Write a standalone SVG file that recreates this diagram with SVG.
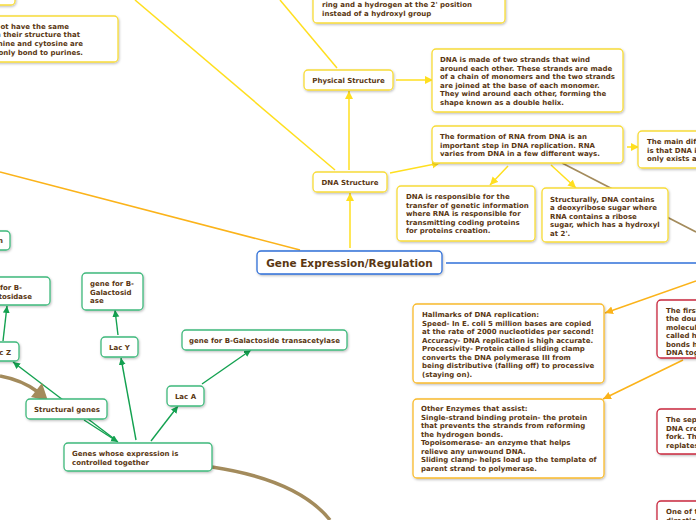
<svg xmlns="http://www.w3.org/2000/svg" width="696" height="520" viewBox="0 0 696 520">
<style>
text{font-family:"DejaVu Sans","Liberation Sans",sans-serif;font-weight:bold;font-size:7px;fill:#5a3712}
.c{text-anchor:middle}
.e{text-anchor:end}
.n rect{fill:#fff;stroke-width:1.3;filter:url(#sh)}
.y rect{stroke:#f8dc38}
.o rect{stroke:#f9bb2c}
.g rect{stroke:#3fb97c}
.r rect{stroke:#c9283e}
.b rect{stroke:#2f6fd8}
.ly{stroke:#ffdf1f;stroke-width:1.5;fill:none}
.lo{stroke:#fbb31a;stroke-width:1.6;fill:none}
.lg{stroke:#13a150;stroke-width:1.4;fill:none}
.lbr{stroke:#a38b5c;fill:none}
</style>
<defs>
<filter id="sh" x="-10%" y="-20%" width="130%" height="160%">
<feDropShadow dx="0.8" dy="1.2" stdDeviation="0.8" flood-color="#000" flood-opacity="0.25"/>
</filter>
<marker id="ay" markerUnits="userSpaceOnUse" markerWidth="10" markerHeight="10" refX="8" refY="4" orient="auto"><path d="M0,0L8,4L0,8z" fill="#ffdf1f"/></marker>
<marker id="ao" markerUnits="userSpaceOnUse" markerWidth="10" markerHeight="10" refX="8" refY="4" orient="auto"><path d="M0,0L8,4L0,8z" fill="#fbb31a"/></marker>
<marker id="ag" markerUnits="userSpaceOnUse" markerWidth="10" markerHeight="10" refX="7" refY="3.5" orient="auto"><path d="M0,0L7,3.5L0,7z" fill="#13a150"/></marker>
</defs>

<g id="connectors">
<line class="ly" x1="135" y1="0" x2="335" y2="170"/>
<line class="ly" x1="280" y1="0" x2="337" y2="68"/>
<line class="ly" x1="349" y1="170" x2="349" y2="91" marker-end="url(#ay)"/>
<line class="ly" x1="396" y1="80" x2="433" y2="80" marker-end="url(#ay)"/>
<line class="ly" x1="390" y1="173" x2="440" y2="163" marker-end="url(#ay)"/>
<line class="ly" x1="350" y1="248" x2="350" y2="193" marker-end="url(#ay)"/>
<line class="ly" x1="627" y1="147" x2="639" y2="147" marker-end="url(#ay)"/>
<line class="ly" x1="508" y1="166" x2="490" y2="185" marker-end="url(#ay)"/>
<line class="ly" x1="551" y1="165" x2="576" y2="188" marker-end="url(#ay)"/>
<line class="lbr" stroke-width="1.6" x1="562" y1="163" x2="696" y2="232"/>
<line class="lo" x1="0" y1="172" x2="300" y2="250"/>
<line x1="446" y1="263" x2="696" y2="263" stroke="#2f6fd8" stroke-width="1.6"/>
<line class="lo" x1="696" y1="281" x2="605" y2="313" marker-end="url(#ao)"/>
<line class="lo" x1="683" y1="360" x2="603" y2="399" marker-end="url(#ao)"/>
<line class="lg" x1="151" y1="441" x2="178" y2="406" marker-end="url(#ag)"/>
<line class="lg" x1="136" y1="440" x2="121" y2="358" marker-end="url(#ag)"/>
<line class="lg" x1="202" y1="384" x2="251" y2="350" marker-end="url(#ag)"/>
<line class="lg" x1="118" y1="335" x2="115" y2="310" marker-end="url(#ag)"/>
<line class="lg" x1="3" y1="341" x2="7" y2="306" marker-end="url(#ag)"/>
<line class="lg" x1="117" y1="441" x2="13" y2="362" marker-end="url(#ag)"/>
<line class="lg" x1="84" y1="420" x2="118" y2="442" marker-end="url(#ag)"/>
<path class="lbr" stroke-width="3.5" d="M0,376 Q22,380 38,392"/>
<polygon points="48,401 31,397 42,383" fill="#a38b5c"/>
<path class="lbr" stroke-width="3.5" d="M212,467 Q298,480 330,520"/>
</g>

<g id="n-topleft" class="n y"><rect x="-20" y="-20" width="35" height="25" rx="4"/></g>

<g id="n-bases" class="n y"><rect x="-40" y="16" width="158" height="46" rx="4"/>
<text class="e"><tspan x="69" y="28.5">ot have the same</tspan><tspan x="80" y="37">n their structure that</tspan><tspan x="83" y="45.5">nine and cytosine are</tspan><tspan x="83" y="54.5">only bond to purines.</tspan></text></g>

<g id="n-ring" class="n y"><rect x="313" y="-20" width="192" height="43" rx="4"/>
<text><tspan x="322" y="7">ring and a hydrogen at the 2' position</tspan><tspan x="322" y="16">instead of a hydroxyl group</tspan></text></g>

<g id="n-physical" class="n y"><rect x="304" y="70" width="89" height="20" rx="4"/>
<text class="c" x="348.5" y="82.5">Physical Structure</text></g>

<g id="n-helix" class="n y"><rect x="432" y="49" width="191" height="63" rx="4"/>
<text><tspan x="440" y="62">DNA is made of two strands that wind</tspan><tspan x="440" y="70.5">around each other. These strands are made</tspan><tspan x="440" y="79">of a chain of monomers and the two strands</tspan><tspan x="440" y="87.5">are joined at the base of each monomer.</tspan><tspan x="440" y="96">They wind around each other, forming the</tspan><tspan x="440" y="104.5">shape known as a double helix.</tspan></text></g>

<g id="n-formation" class="n y"><rect x="432" y="126" width="191" height="37" rx="4"/>
<text><tspan x="440" y="139">The formation of RNA from DNA is an</tspan><tspan x="440" y="147.5">important step in DNA replication. RNA</tspan><tspan x="440" y="156">varies from DNA in a few different ways.</tspan></text></g>

<g id="n-maindif" class="n y"><rect x="638" y="131" width="80" height="37" rx="4"/>
<text><tspan x="647" y="144">The main dif</tspan><tspan x="647" y="152.5">is that DNA i</tspan><tspan x="647" y="161">only exists a</tspan></text></g>

<g id="n-dnastructure" class="n y"><rect x="313" y="172" width="74" height="20" rx="4"/>
<text class="c" x="350" y="184.5">DNA Structure</text></g>

<g id="n-responsible" class="n y"><rect x="397" y="186" width="138" height="55" rx="4"/>
<text><tspan x="406" y="199">DNA is responsible for the</tspan><tspan x="406" y="207.5">transfer of genetic information</tspan><tspan x="406" y="216">where RNA is responsible for</tspan><tspan x="406" y="224.5">transmitting coding proteins</tspan><tspan x="406" y="233">for proteins creation.</tspan></text></g>

<g id="n-structurally" class="n y"><rect x="542" y="188" width="126" height="54" rx="4"/>
<text><tspan x="550" y="201.5">Structurally, DNA contains</tspan><tspan x="550" y="210">a deoxyribose sugar where</tspan><tspan x="550" y="218.5">RNA contains a ribose</tspan><tspan x="550" y="227">sugar, which has a hydroxyl</tspan><tspan x="550" y="235.5">at 2'.</tspan></text></g>

<g id="n-root" class="n b"><rect x="257" y="251" width="185" height="23" rx="4"/>
<text class="c" x="349.5" y="267" style="font-size:10.5px">Gene Expression/Regulation</text></g>

<g id="n-hallmarks" class="n o"><rect x="413" y="304" width="191" height="79" rx="4"/>
<text><tspan x="422" y="317">Hallmarks of DNA replication:</tspan><tspan x="422" y="325.5">Speed- In E. coli 5 million bases are copied</tspan><tspan x="422" y="334">at the rate of 2000 nucleotides per second!</tspan><tspan x="422" y="342.5">Accuracy- DNA replication is high accurate.</tspan><tspan x="422" y="351">Processivity- Protein called sliding clamp</tspan><tspan x="422" y="359.5">converts the DNA polymerase III from</tspan><tspan x="422" y="368">being distributive (falling off) to processive</tspan><tspan x="422" y="376.5">(staying on).</tspan></text></g>

<g id="n-enzymes" class="n o"><rect x="413" y="399" width="191" height="79" rx="4"/>
<text><tspan x="421" y="411">Other Enzymes that assist:</tspan><tspan x="421" y="419.5">Single-strand binding protein- the protein</tspan><tspan x="421" y="428">that prevents the strands from reforming</tspan><tspan x="421" y="436.5">the hydrogen bonds.</tspan><tspan x="421" y="445">Topoisomerase- an enzyme that helps</tspan><tspan x="421" y="453.5">relieve any unwound DNA.</tspan><tspan x="421" y="462">Sliding clamp- helps load up the template of</tspan><tspan x="421" y="470.5">parent strand to polymerase.</tspan></text></g>

<g id="n-first" class="n r"><rect x="657" y="300" width="60" height="58" rx="4"/>
<text><tspan x="666" y="312.5">The first</tspan><tspan x="666" y="321">the dou</tspan><tspan x="666" y="329.5">molecul</tspan><tspan x="666" y="338">called h</tspan><tspan x="666" y="346.5">bonds h</tspan><tspan x="666" y="355">DNA tog</tspan></text></g>

<g id="n-sep" class="n r"><rect x="657" y="409" width="60" height="45" rx="4"/>
<text><tspan x="666" y="422">The sep</tspan><tspan x="666" y="430.5">DNA cre</tspan><tspan x="666" y="439">fork. Th</tspan><tspan x="666" y="447.5">replates</tspan></text></g>

<g id="n-oneof" class="n r"><rect x="657" y="501" width="60" height="40" rx="4"/>
<text><tspan x="666" y="514">One of t</tspan><tspan x="666" y="522.5">directio</tspan></text></g>

<g id="n-leftn" class="n g"><rect x="-30" y="231" width="40" height="19" rx="4"/>
<text class="e" x="3" y="243">n</text></g>

<g id="n-genez" class="n g"><rect x="-40" y="277" width="90" height="28" rx="4"/>
<text class="e"><tspan x="22" y="290">for B-</tspan><tspan x="32" y="298.5">tosidase</tspan></text></g>

<g id="n-lacz" class="n g"><rect x="-19" y="342" width="38" height="19" rx="4"/>
<text class="e" x="11" y="354.5">Lac Z</text></g>

<g id="n-geney" class="n g"><rect x="82" y="273" width="61" height="37" rx="4"/>
<text><tspan x="90" y="286">gene for B-</tspan><tspan x="90" y="294.5">Galactosid</tspan><tspan x="90" y="303">ase</tspan></text></g>

<g id="n-lacy" class="n g"><rect x="101" y="337" width="37" height="20" rx="4"/>
<text class="c" x="119.5" y="350">Lac Y</text></g>

<g id="n-genea" class="n g"><rect x="182" y="330" width="165" height="20" rx="4"/>
<text class="c" x="264.5" y="343">gene for B-Galactoside transacetylase</text></g>

<g id="n-laca" class="n g"><rect x="167" y="386" width="37" height="20" rx="4"/>
<text class="c" x="185.5" y="398.5">Lac A</text></g>

<g id="n-structural" class="n g"><rect x="26" y="399" width="81" height="20" rx="4"/>
<text x="34" y="412">Structural genes</text></g>

<g id="n-genes" class="n g"><rect x="64" y="443" width="148" height="28" rx="4"/>
<text><tspan x="72" y="456">Genes whose expression is</tspan><tspan x="72" y="464.5">controlled together</tspan></text></g>
</svg>
